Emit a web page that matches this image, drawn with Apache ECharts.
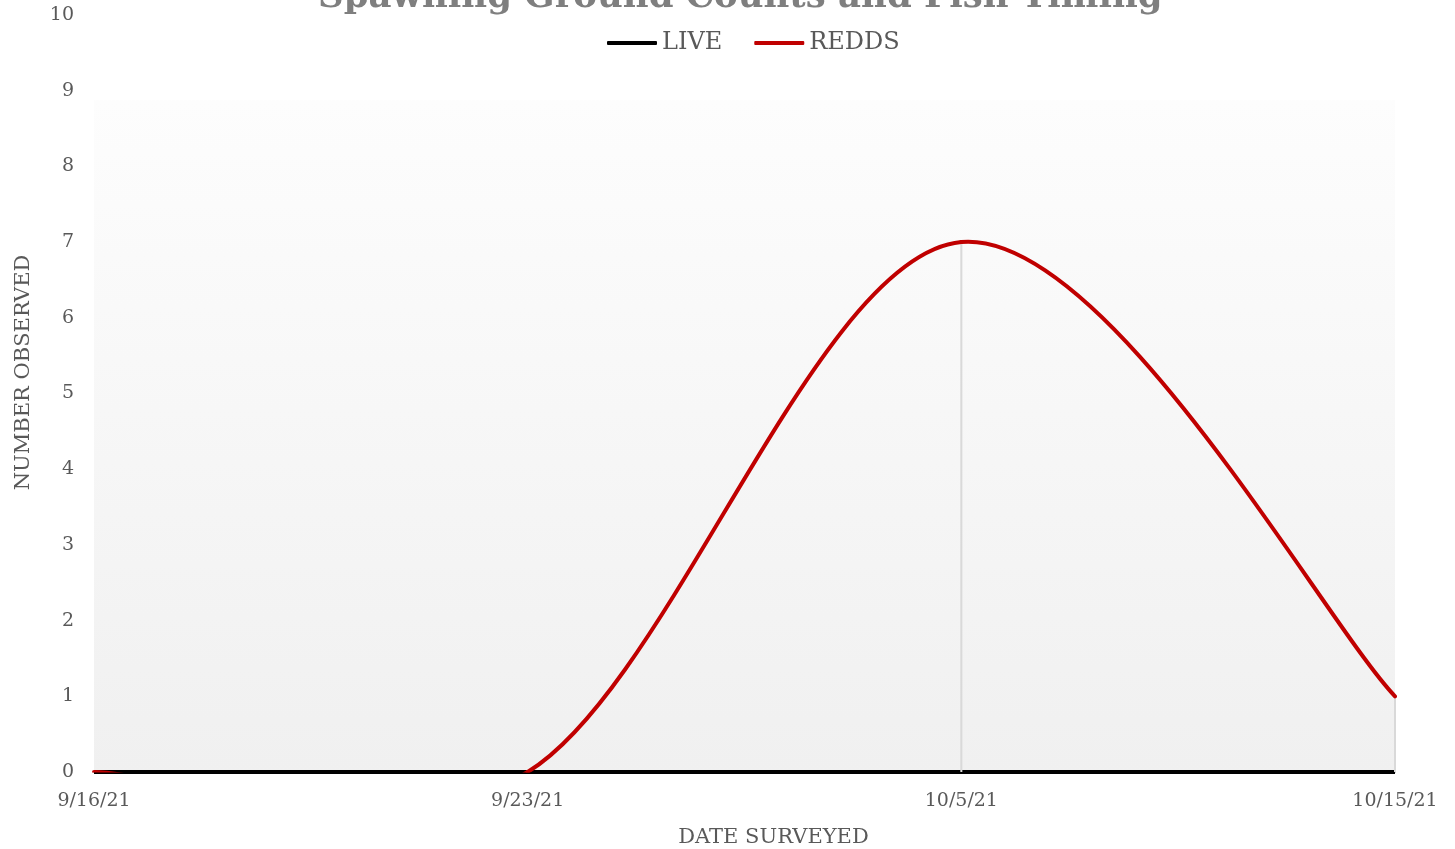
<!DOCTYPE html>
<html><head><meta charset="utf-8">
<script src="https://cdn.jsdelivr.net/npm/echarts@6/dist/echarts.min.js"></script>
<style>html,body{margin:0;padding:0;background:#fff}#c{width:1455px;height:849px}</style>
</head><body><div id="c"></div>
<script>
const categories = ['9/16/21', '9/23/21', '10/5/21', '10/15/21'];
const liveValues = [0, 0, 0, 0];
const reddsValues = [0, 0, 7, 1];
const yTicks = [0, 1, 2, 3, 4, 5, 6, 7, 8, 9, 10];

const FONT = 'DejaVu Serif';
const TXT = '#595959';
const RED = '#c00000';

// Excel-style smoothed line (Bezier with tangents of (P[i+1]-P[i-1])/6), through the axis scales
function smoothRender(values, color, withDropLines) {
  return function (params, api) {
    if (params.dataIndex !== 0) return null;
    const pts = values.map((v, i) => api.coord([i, v]));
    const base = values.map((v, i) => api.coord([i, 0]));
    const cs = params.coordSys;
    const children = [];
    if (withDropLines) {
      pts.forEach((p, i) => {
        children.push({ type: 'line', shape: { x1: p[0], y1: p[1], x2: base[i][0], y2: base[i][1] },
          style: { stroke: '#d9d9d9', lineWidth: 2 } });
      });
    }
    const n = pts.length;
    const P = i => pts[Math.max(0, Math.min(n - 1, i))];
    for (let i = 0; i < n - 1; i++) {
      const p0 = P(i - 1), p1 = P(i), p2 = P(i + 1), p3 = P(i + 2);
      children.push({
        type: 'bezierCurve',
        shape: {
          x1: p1[0], y1: p1[1], x2: p2[0], y2: p2[1],
          cpx1: p1[0] + (p2[0] - p0[0]) / 6, cpy1: p1[1] + (p2[1] - p0[1]) / 6,
          cpx2: p2[0] - (p3[0] - p1[0]) / 6, cpy2: p2[1] - (p3[1] - p1[1]) / 6
        },
        style: { stroke: color, lineWidth: 4, fill: null, lineCap: 'round' }
      });
    }
    return {
      type: 'group', children,
      clipPath: { type: 'rect', shape: { x: cs.x - 2, y: cs.y - 2, width: cs.width + 4, height: cs.height + 2.5 } }
    };
  };
}

const chart = echarts.init(document.getElementById('c'));
chart.setOption({
  animation: false,
  backgroundColor: '#fff',
  title: {
    text: 'Spawning Ground Counts and Fish Timing',
    left: 313, top: -25,
    textStyle: { fontFamily: FONT, fontSize: 35.5, fontWeight: 'bold', color: '#7f7f7f' }
  },
  legend: {
    top: 26, left: 602, itemGap: 32, itemWidth: 50, itemHeight: 4,
    textStyle: { fontFamily: FONT, fontSize: 24, color: TXT },
    data: [{ name: 'LIVE', icon: 'roundRect' }, { name: 'REDDS', icon: 'roundRect' }]
  },
  grid: { left: 94, right: 60, top: 15, bottom: 77, containLabel: false, outerBoundsMode: 'none',
    show: true, borderWidth: 0,
    backgroundColor: new echarts.graphic.LinearGradient(0, 0, 0, 1, [
      { offset: 0, color: '#ffffff' }, { offset: 0.112, color: '#ffffff' },
      { offset: 0.113, color: '#fdfdfd' }, { offset: 1, color: '#f0f0f0' }
    ]) },
  xAxis: {
    type: 'category', data: categories, boundaryGap: false,
    axisLine: { show: true, lineStyle: { color: '#7f7f7f', width: 1 } },
    axisTick: { show: false },
    axisLabel: { fontFamily: FONT, fontSize: 19, color: TXT, margin: 20 },
    splitLine: { show: false },
    name: 'DATE SURVEYED', nameLocation: 'middle', nameGap: 55,
    nameTextStyle: { fontFamily: FONT, fontSize: 21, color: TXT, padding: [0, 0, 0, 58] }
  },
  yAxis: {
    type: 'value', min: 0, max: 10, interval: 1,
    axisLine: { show: false }, axisTick: { show: false },
    splitLine: { show: false },
    axisLabel: { fontFamily: FONT, fontSize: 19, color: TXT, margin: 20,
      formatter: v => yTicks.includes(v) ? String(v) : '' },
    name: 'NUMBER OBSERVED', nameLocation: 'middle', nameGap: 60, nameRotate: 90,
    nameTextStyle: { fontFamily: FONT, fontSize: 21, color: TXT, padding: [0, 0, 0, 42] }
  },
  series: [
    {
      name: 'LIVE', type: 'line', data: liveValues, symbol: 'none',
      lineStyle: { color: '#000000', width: 4 }, itemStyle: { color: '#000000' }, z: 3
    },
    {
      name: 'REDDS', type: 'custom', z: 4,
      data: reddsValues.map((v, i) => [i, v]),
      encode: { x: 0, y: 1 },
      itemStyle: { color: RED },
      renderItem: smoothRender(reddsValues, RED, true)
    }
  ]
});
</script></body></html>
